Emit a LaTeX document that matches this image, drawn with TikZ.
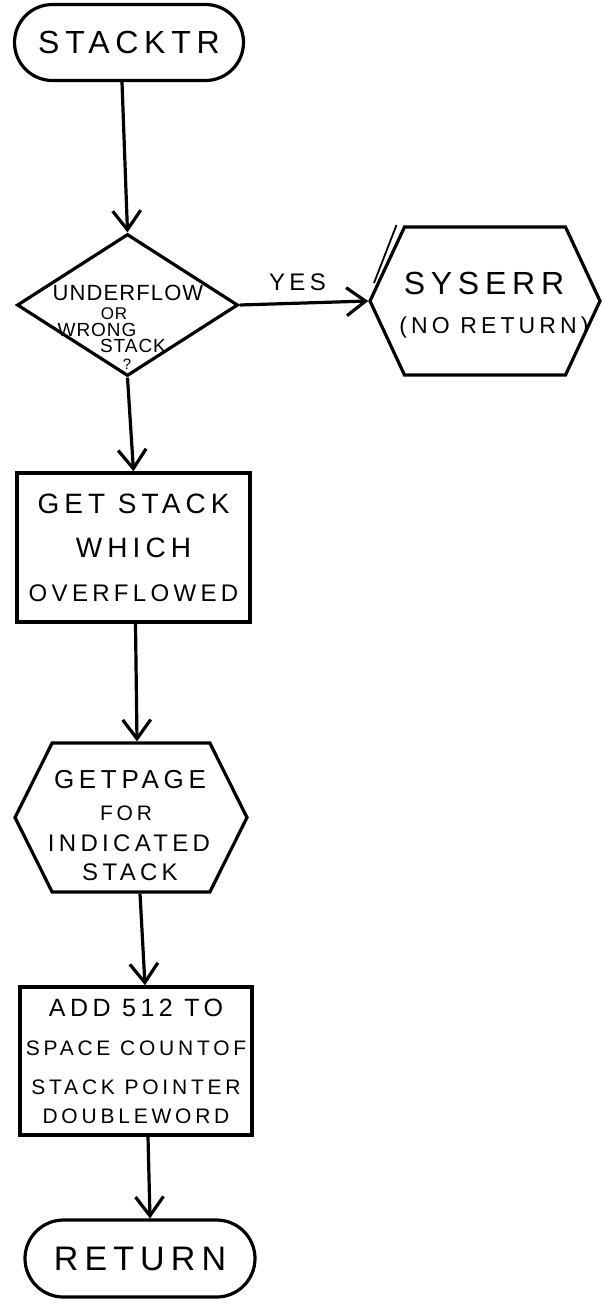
\documentclass[tikz,border=0pt]{standalone}
\usepackage{fontspec}
\setmainfont{Liberation Sans}
\newfontfamily\hand[LetterSpace=18]{Liberation Sans}
\newfontfamily\handn[LetterSpace=5]{Liberation Sans}
\usetikzlibrary{shapes.geometric,shapes.misc,shapes.symbols,arrows.meta}
\tikzset{
  term/.style={rounded rectangle, draw, line width=3.2pt, inner sep=0pt,
    minimum width=229pt, minimum height=76pt},
  stepbox/.style={rectangle, draw, line width=3.5pt, inner sep=0pt,
    minimum width=233pt, minimum height=149pt, align=center},
  hexa/.style={signal, signal to=west and east, draw, line width=3.2pt, inner sep=0pt},
  decision/.style={diamond, draw, line width=3.2pt, inner sep=0pt,
    minimum width=221pt, minimum height=142pt},
  txt/.style={inner sep=0pt, align=center},
  arr/.style={line width=3.2pt, -{Straight Barb[length=19pt,width=28pt]}},
  fs/.style={font=\hand\fontsize{#1}{#1}\selectfont},
  fn/.style={font=\handn\fontsize{#1}{#1}\selectfont}
}
\begin{document}
\begin{tikzpicture}[x=1pt,y=-1pt]
\useasboundingbox[fill=white] (0,0) rectangle (603,1310);

% nodes
\node[term, fs=32] (stacktr) at (129,42.5) {STACKTR};
\node[decision] (dec) at (127.5,305) {};
\node[hexa, minimum width=230pt, minimum height=148pt, signal pointer angle=130] (syserr) at (485,301) {};
\node[stepbox, font=\hand\fontsize{28}{44}\selectfont] (getstack) at (133.5,547.5)
  {GET STACK\\WHICH\\{\fontsize{24}{44}\selectfont OVERFLOWED}};
\node[hexa, minimum width=232pt, minimum height=149pt, signal pointer angle=127] (getpage) at (131,817.5) {};
\node[stepbox, minimum width=232pt, minimum height=148pt, font=\hand\fontsize{21}{39}\selectfont] (add) at (136,1061)
  {{\fontsize{25}{39}\selectfont ADD 512 TO}\\SPACE COUNTOF\\STACK POINTER\\[-10pt]DOUBLEWORD};
\node[term, minimum width=230pt, minimum height=77pt, fs=34] (return) at (140,1258.5) {RETURN};

% texts in the decision
\node[txt, fn=22] (d1) at (128,293) {UNDERFLOW};
\node[txt, fn=17] (d2) at (114,314) {OR};
\node[txt, fn=19] (d3) at (97,330) {WRONG};
\node[txt, fn=19] (d4) at (133,346) {STACK};
\node[txt, fn=15] (d5) at (127,364) {?};

% texts in SYSERR
\node[txt, fs=32] (s1) at (484,283) {SYSERR};
\node[txt, fs=23] (s2) at (494,328) {(NO RETURN)};

% texts in GETPAGE
\node[txt, fs=26] (g1) at (130,780) {GETPAGE};
\node[txt, fs=21] (g2) at (126,813) {FOR};
\node[txt, fs=24] (g3) at (129,843) {INDICATED};
\node[txt, fs=24] (g4) at (130,872) {STACK};

% extra stroke on SYSERR edge
\draw[line width=1.8pt] (396.5,225) -- (374,283);

% connectors
\draw[arr] ([xshift=-7pt]stacktr.south) -- (dec.north);
\draw[arr] (dec.east) -- node[txt, fs=24, pos=0.45, yshift=21pt] (yes) {YES} (syserr.west);
\draw[arr] (dec.south) -- (getstack.north);
\draw[arr] ([xshift=2pt]getstack.south) -- ([xshift=6pt]getpage.north);
\draw[arr] ([xshift=9pt]getpage.south) -- ([xshift=9pt]add.north);
\draw[arr] ([xshift=12pt]add.south) -- ([xshift=10pt]return.north);
\end{tikzpicture}
\end{document}
